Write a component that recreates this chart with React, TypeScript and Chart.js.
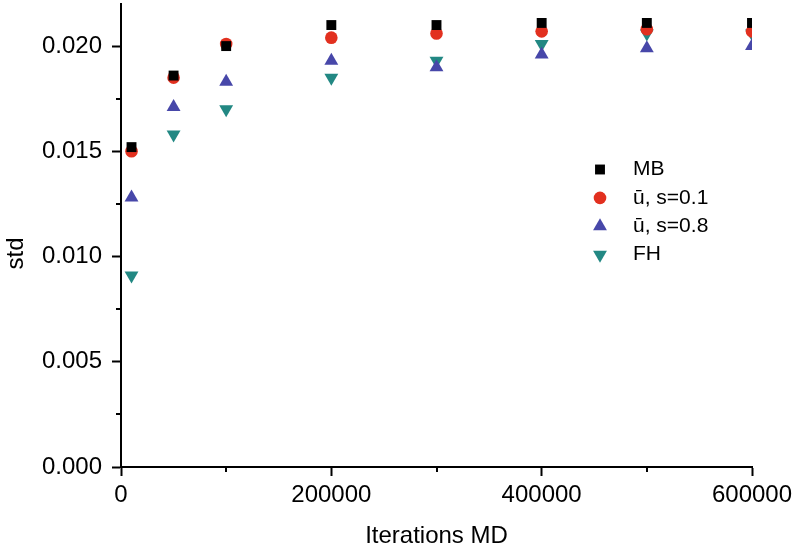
import React, { useEffect, useRef } from 'react';
import { Chart, registerables } from 'chart.js';
import { drawPoint } from 'chart.js/helpers';

Chart.register(...registerables);

// Number of MD iterations at which the standard deviation was sampled
const iterations = [10000, 50000, 100000, 200000, 300000, 400000, 500000, 600000];

// Standard deviation per method
const stdMB = [0.0152, 0.0186, 0.0200, 0.0210, 0.0210, 0.0211, 0.0211, 0.0211];
const stdU01 = [0.0150, 0.0185, 0.0201, 0.0204, 0.0206, 0.0207, 0.0208, 0.0207];
const stdU08 = [0.0128, 0.0171, 0.0183, 0.0193, 0.0190, 0.0196, 0.0199, 0.0200];
const stdFH = [0.0091, 0.0158, 0.0170, 0.0185, 0.0193, 0.0201, 0.0206, 0.0206];

const seriesLabels = ['MB', '\u016B, s=0.1', '\u016B, s=0.8', 'FH'];

// Unlabelled intermediate ticks
const xMinorTicks = [100000, 300000, 500000];
const yMinorTicks = [0.0025, 0.0075, 0.0125, 0.0175];

const FONT = "'Liberation Sans', Arial, Helvetica, sans-serif";

const decorations = {
  id: 'decorations',
  afterDraw(chart: any) {
    const { ctx, chartArea, scales } = chart;
    const xs = scales.x;
    const ys = scales.y;
    ctx.save();

    // minor tick marks
    ctx.strokeStyle = '#000';
    ctx.lineWidth = 2;
    ctx.beginPath();
    for (const v of xMinorTicks) {
      const px = Math.round(xs.getPixelForValue(v));
      ctx.moveTo(px, chartArea.bottom);
      ctx.lineTo(px, chartArea.bottom + 5);
    }
    for (const v of yMinorTicks) {
      const py = Math.round(ys.getPixelForValue(v));
      ctx.moveTo(chartArea.left, py);
      ctx.lineTo(chartArea.left - 5, py);
    }
    ctx.stroke();

    // y axis title
    ctx.fillStyle = '#000';
    ctx.font = `24px ${FONT}`;
    ctx.textAlign = 'center';
    ctx.textBaseline = 'middle';
    ctx.save();
    ctx.translate(16.5, (chartArea.top + chartArea.bottom) / 2 + 18);
    ctx.rotate(-Math.PI / 2);
    ctx.fillText('std', 0, 0);
    ctx.restore();

    // legend inside the plot
    const markerX = chartArea.left + 479;
    const textX = chartArea.left + 512;
    const rowTop = chartArea.top + 165.5;
    const rowGap = 28.4;
    ctx.font = `21px ${FONT}`;
    ctx.textAlign = 'left';
    chart.data.datasets.forEach((ds: any, i: number) => {
      const ry = rowTop + i * rowGap;
      ctx.fillStyle = ds.pointBackgroundColor;
      drawPoint(
        ctx,
        { pointStyle: ds.pointStyle, rotation: ds.pointRotation || 0, radius: ds.pointRadius, borderWidth: 0 },
        markerX,
        ry
      );
      ctx.fillStyle = '#000';
      ctx.fillText(ds.label, textX, ry);
    });

    ctx.restore();
  },
};

function series(values: number[]) {
  return iterations.map((x, i) => ({ x, y: values[i] }));
}

function fixSize(prop: 'width' | 'height', size: number) {
  return (s: any) => {
    s[prop] = size;
    s.paddingTop = 0;
    s.paddingBottom = 0;
    s.paddingLeft = 0;
    s.paddingRight = 0;
  };
}

export default function App() {
  const canvasRef = useRef<HTMLCanvasElement | null>(null);

  useEffect(() => {
    const canvas = canvasRef.current;
    if (!canvas) return;

    const common = { showLine: false, pointBorderWidth: 0, clip: 0 };

    const chart = new Chart(canvas, {
      type: 'scatter',
      data: {
        datasets: [
          { ...common, label: seriesLabels[0], data: series(stdMB), pointStyle: 'rect', pointRadius: 7, pointBackgroundColor: '#000000', backgroundColor: '#000000' },
          { ...common, label: seriesLabels[1], data: series(stdU01), pointStyle: 'circle', pointRadius: 6.3, pointBackgroundColor: '#E2301F', backgroundColor: '#E2301F' },
          { ...common, label: seriesLabels[2], data: series(stdU08), pointStyle: 'triangle', pointRadius: 8, pointBackgroundColor: '#4747A9', backgroundColor: '#4747A9' },
          { ...common, label: seriesLabels[3], data: series(stdFH), pointStyle: 'triangle', pointRotation: 180, pointRadius: 8, pointBackgroundColor: '#228883', backgroundColor: '#228883' },
        ],
      } as any,
      options: {
        responsive: false,
        animation: false,
        events: [],
        layout: { autoPadding: false, padding: { left: 0, right: 41, top: 4, bottom: 0 } },
        plugins: { legend: { display: false }, tooltip: { enabled: false } },
        scales: {
          x: {
            type: 'linear',
            position: 'bottom',
            min: 0,
            max: 600000,
            afterFit: fixSize('height', 87),
            border: { display: true, color: '#000', width: 2 },
            grid: { drawOnChartArea: false, drawTicks: true, tickLength: 9, tickWidth: 2, tickColor: '#000' },
            ticks: {
              stepSize: 200000,
              autoSkip: false,
              maxRotation: 0,
              padding: 5,
              color: '#000',
              font: { family: FONT, size: 24 },
              callback: (v: any) => String(v),
            },
            title: {
              display: true,
              text: 'Iterations MD',
              color: '#000',
              font: { family: FONT, size: 24 },
              padding: { top: 0, bottom: 3 },
            },
          },
          y: {
            type: 'linear',
            position: 'left',
            min: 0,
            max: 0.022,
            afterFit: fixSize('width', 121),
            border: { display: true, color: '#000', width: 2 },
            grid: { drawOnChartArea: false, drawTicks: true, tickLength: 9, tickWidth: 2, tickColor: '#000' },
            ticks: {
              stepSize: 0.005,
              includeBounds: false,
              autoSkip: false,
              padding: 10,
              color: '#000',
              font: { family: FONT, size: 24 },
              callback: (v: any) => Number(v).toFixed(3),
            },
            title: { display: false },
          },
        },
      } as any,
      plugins: [decorations],
    });

    return () => chart.destroy();
  }, []);

  return (
    <div style={{ position: 'fixed', left: 0, top: 0, width: 793, height: 554, background: '#fff' }}>
      <canvas ref={canvasRef} width={793} height={554} style={{ display: 'block' }} />
    </div>
  );
}
